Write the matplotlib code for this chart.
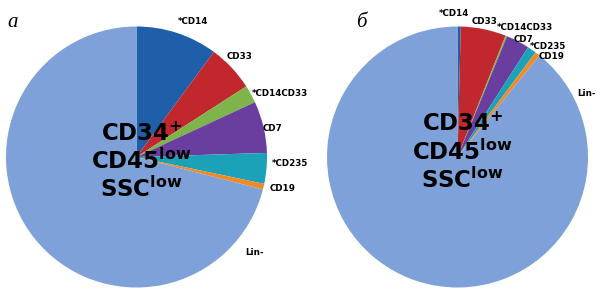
import matplotlib
matplotlib.use("Agg")
import matplotlib.pyplot as plt

# --- data (percent of CD34+ CD45low SSClow cells) ---
labels = ["*CD14", "CD33", "*CD14CD33", "CD7", "*CD235", "CD19", "Lin-"]
labels_b = ["*CD14", "CD33", "*CD14CD33", "CD7", "*CD235", "CD19", "Lin-"]
values_a = [10.1, 5.8, 2.2, 6.4, 3.8, 0.7, 71.0]
values_b = [0.4, 5.6, 0.2, 2.9, 1.1, 0.6, 89.2]
colors = ["#1F5FAA", "#C0282D", "#7DB54A", "#6A3E9E", "#1BA2B8", "#F08A24", "#7FA1D9"]

# label positions in pie units (radius = 1), with horizontal alignment
pos_a = [(0.43, 1.04, "center"), (0.79, 0.77, "center"), (0.885, 0.49, "left"),
         (0.97, 0.22, "left"), (1.04, -0.05, "left"), (1.02, -0.24, "left"),
         (0.83, -0.73, "left")]
pos_b = [(-0.03, 1.10, "center"), (0.11, 1.04, "left"), (0.30, 0.99, "left"),
         (0.43, 0.90, "left"), (0.555, 0.85, "left"), (0.62, 0.77, "left"),
         (0.92, 0.49, "left")]

W, H = 596, 291
fig = plt.figure(figsize=(W / 100, H / 100), dpi=100)
fig.patch.set_facecolor("white")


def draw(cx, cy, r, values, names, pos, text_y, panel, panel_x):
    ax = fig.add_axes([(cx - r) / W, (H - cy - r) / H, 2 * r / W, 2 * r / H])
    ax.pie(values, colors=colors, startangle=90, counterclock=False,
           radius=1, wedgeprops=dict(linewidth=0))
    ax.set_xlim(-1, 1)
    ax.set_ylim(-1, 1)
    ax.set_aspect("equal")
    ax.axis("off")
    for name, (x, y, ha) in zip(names, pos):
        ax.text(x, y, name, ha=ha, va="center", fontsize=6.3,
                fontweight="bold", clip_on=False)
    centre = [r"$\mathbf{CD34^{+}}$", r"$\mathbf{CD45^{low}}$", r"$\mathbf{SSC^{low}}$"]
    for t, y in zip(centre, text_y):
        ax.text(0.04, y, t, ha="center", va="baseline", fontsize=16.5)
    fig.text(panel_x / W, 1 - 27 / H, panel, fontsize=15, style="italic",
             family="Liberation Serif", ha="left", va="baseline")


draw(136.5, 157, 130.5, values_a, labels, pos_a, [0.12, -0.09, -0.31], "a", 7)
draw(457.5, 157, 130.5, values_b, labels_b, pos_b, [0.20, -0.02, -0.24], "б", 356)

fig.savefig("out.png", dpi=100)
